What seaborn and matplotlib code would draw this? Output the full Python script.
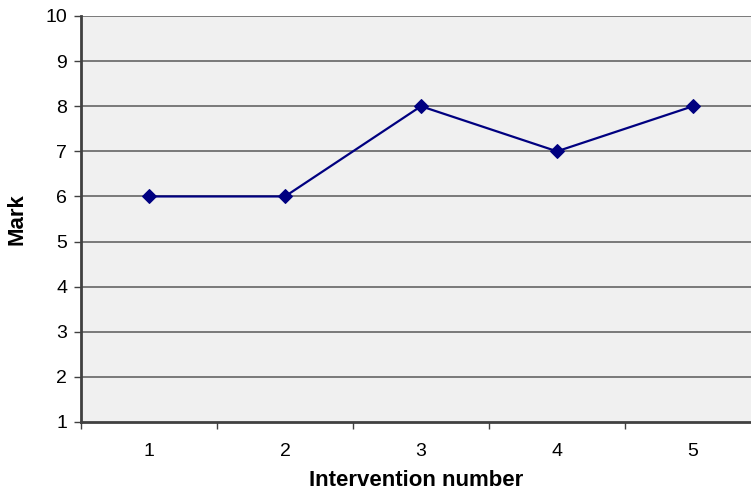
import matplotlib
matplotlib.use("Agg")
import matplotlib.pyplot as plt
import seaborn as sns
import pandas as pd
import numpy as np

interventions = [1, 2, 3, 4, 5]
marks = [6, 6, 8, 7, 8]
y_ticks = list(range(1, 11))

sns.set_style("white")
plt.rcParams['font.family'] = ['Liberation Sans', 'DejaVu Sans']

df = pd.DataFrame({"Intervention number": interventions, "Mark": marks})

fig = plt.figure(figsize=(7.51, 4.92), dpi=100)
ax = fig.add_axes([81/751, 1-422/492, (761-81)/751, (422-16)/492])
ax.set_facecolor("#f0f0f0")

for y in y_ticks[1:]:
    ax.axhline(y, color="#707070", lw=1.3, zorder=1)

sns.lineplot(data=df, x="Intervention number", y="Mark", ax=ax, color="#000080",
             lw=1.6, marker="D", markersize=7, markeredgecolor="#000080", zorder=3)

ax.set_xlim(0.5, 5.5)
ax.set_ylim(1, 10)
ax.set_yticks(y_ticks)
ax.set_yticklabels([str(v) for v in y_ticks], fontsize=14, color="black")
ax.set_xticks(interventions)
ax.set_xticklabels([str(v) for v in interventions], fontsize=14, color="black")
ax.set_xticks(np.arange(0.5, 6.0, 1.0), minor=True)
ax.tick_params(axis="x", which="major", bottom=True, length=0, pad=15)
ax.tick_params(axis="x", which="minor", bottom=True, length=5, width=1, color="#404040", direction="out")
ax.tick_params(axis="y", left=True, length=5, width=1, color="#404040", direction="out", pad=5)

for s in ["top", "right"]:
    ax.spines[s].set_visible(False)
ax.spines["left"].set_color("#404040")
ax.spines["left"].set_linewidth(2)
ax.spines["bottom"].set_color("#404040")
ax.spines["bottom"].set_linewidth(2)

ax.set_xlabel("Intervention number", fontsize=16, fontweight="bold", color="black")
ax.set_ylabel("Mark", fontsize=16, fontweight="bold", color="black")
ax.xaxis.set_label_coords((416 - 81) / 680, (422 - 481) / 406)
ax.xaxis.label.set_va("center")
ax.yaxis.set_label_coords((16.5 - 81) / 680, 0.5)
ax.yaxis.label.set_va("center")

fig.savefig("out.png", dpi=100)
